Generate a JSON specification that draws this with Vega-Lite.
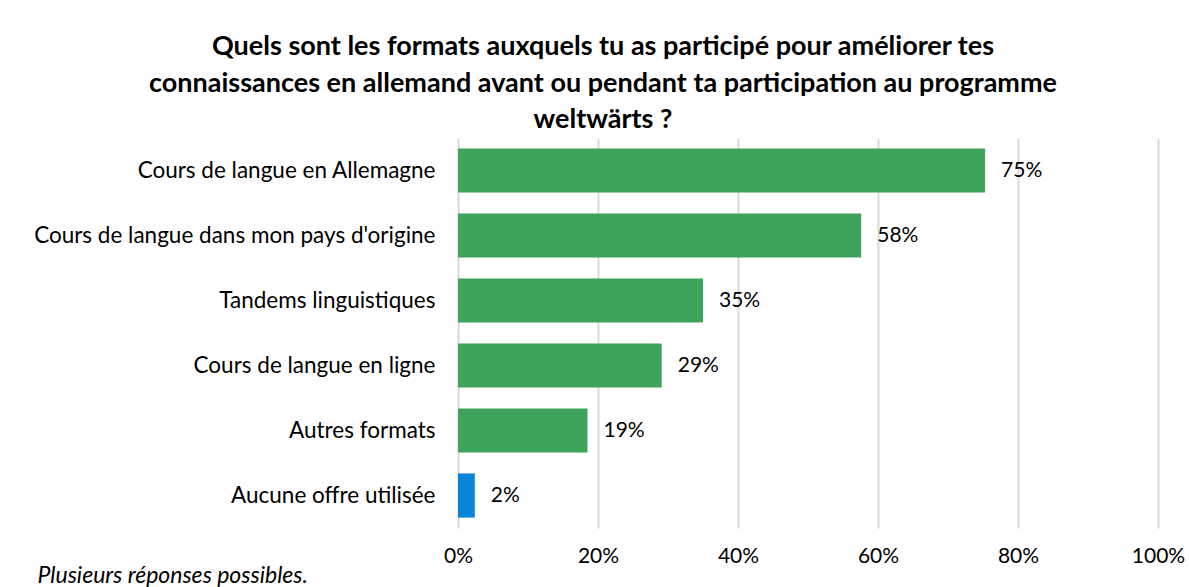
{
  "$schema": "https://vega.github.io/schema/vega-lite/v6.json",
  "autosize": {"type": "none"},
  "width": 700,
  "height": 390,
  "padding": {"left": 458, "top": 138, "right": 31, "bottom": 59},
  "background": "white",
  "config": {
    "font": "Lato",
    "view": {"stroke": null}
  },
  "title": {
    "text": ["Quels sont les formats auxquels tu as participé pour améliorer tes", "connaissances en allemand avant ou pendant ta participation au programme", "weltwärts ?"],
    "font": "Lato",
    "fontSize": 27,
    "fontWeight": "bold",
    "color": "#000000",
    "anchor": "middle",
    "frame": "group",
    "dx": -205,
    "offset": 4,
    "lineHeight": 36.5
  },
  "data": {
    "values": [
      {"format": "Cours de langue en Allemagne", "pct": 0.753, "group": "offre"},
      {"format": "Cours de langue dans mon pays d'origine", "pct": 0.576, "group": "offre"},
      {"format": "Tandems linguistiques", "pct": 0.35, "group": "offre"},
      {"format": "Cours de langue en ligne", "pct": 0.291, "group": "offre"},
      {"format": "Autres formats", "pct": 0.185, "group": "offre"},
      {"format": "Aucune offre utilisée", "pct": 0.024, "group": "aucune"}
    ]
  },
  "encoding": {
    "y": {
      "field": "format",
      "type": "nominal",
      "sort": null,
      "scale": {"paddingInner": 0.32, "paddingOuter": 0.16},
      "axis": {
        "title": null,
        "domain": false,
        "ticks": false,
        "labelFont": "Lato",
        "labelFontSize": 22.5,
        "labelColor": "#000000",
        "labelPadding": 23,
        "labelLimit": 500
      }
    },
    "x": {
      "field": "pct",
      "type": "quantitative",
      "scale": {"domain": [0, 1], "nice": false},
      "axis": {
        "format": ".0%",
        "values": [0, 0.2, 0.4, 0.6, 0.8, 1],
        "domain": false,
        "ticks": false,
        "grid": true,
        "gridColor": "#d9d9d9",
        "gridWidth": 2,
        "labelFont": "Lato",
        "labelFontSize": 21,
        "labelColor": "#000000",
        "labelPadding": 17,
        "labelFlush": false,
        "title": "Plusieurs réponses possibles.",
        "titleFont": "Lato",
        "titleFontSize": 23,
        "titleFontStyle": "italic",
        "titleFontWeight": "normal",
        "titleColor": "#000000",
        "titleAlign": "left",
        "titleAnchor": "start",
        "titleX": -421,
        "titleY": 54,
        "titleBaseline": "alphabetic"
      }
    }
  },
  "layer": [
    {
      "mark": {"type": "bar"},
      "encoding": {
        "color": {
          "field": "group",
          "type": "nominal",
          "scale": {"domain": ["offre", "aucune"], "range": ["#3ea35b", "#0a84d8"]},
          "legend": null
        }
      }
    },
    {
      "mark": {"type": "text", "align": "left", "baseline": "middle", "dx": 16, "font": "Lato", "fontSize": 21, "color": "#000000"},
      "encoding": {
        "text": {"field": "pct", "type": "quantitative", "format": ".0%"}
      }
    }
  ]
}
